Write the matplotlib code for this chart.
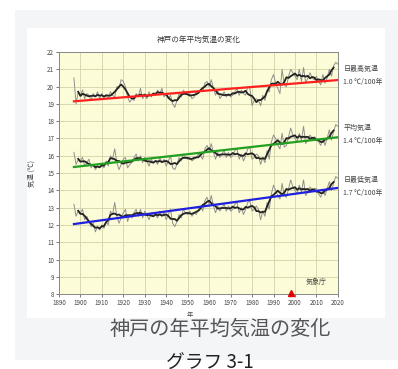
import numpy as np
import pandas as pd
import matplotlib
matplotlib.use("Agg")
import matplotlib.pyplot as plt
from matplotlib.patches import Rectangle

plt.rcParams['font.family'] = ['Noto Sans CJK JP', 'DejaVu Sans']

# 神戸の年平均気温 (1897-2020)
years = np.arange(1897, 2021)

t_max = [20.5, 19.0, 19.7,
         19.5, 19.8, 19.3, 19.6, 19.5, 19.2, 19.6, 19.4, 19.7, 19.3,
         19.6, 19.4, 19.5, 19.3, 19.7, 19.5, 19.4, 20.0, 19.9, 20.4,
         20.3, 20.0, 19.4, 19.1, 19.3, 19.2, 19.6, 19.4, 19.9, 19.3,
         19.5, 19.3, 19.7, 19.4, 19.6, 19.5, 19.8, 19.6, 19.9, 19.4,
         19.6, 19.3, 19.5, 19.0, 18.8, 19.2, 19.6, 19.4, 19.8, 19.6,
         19.5, 19.6, 19.3, 19.4, 19.7, 19.6, 19.8, 19.7, 20.2, 20.3,
         20.0, 20.4, 19.9, 19.5, 19.8, 19.3, 19.5, 19.7, 19.4, 19.6,
         19.4, 19.5, 19.7, 19.9, 19.5, 19.8, 19.6, 19.5, 20.0, 19.9,
         18.9, 19.2, 19.3, 19.2, 18.9, 19.5, 19.2, 19.8, 19.7, 20.4,
         20.7, 20.2, 19.9, 19.6, 21.0, 20.1, 20.0, 20.6, 21.0, 20.8,
         20.6, 20.4, 21.0, 20.3, 21.1, 20.2, 20.5, 20.8, 20.5, 20.4,
         20.6, 20.3, 20.1, 20.7, 20.2, 20.5, 21.0, 20.6, 21.2, 21.4,
         21.3]

t_mean = [16.2, 15.5, 15.8,
          15.7, 15.9, 15.4, 15.6, 15.8, 15.3, 15.5, 15.2, 15.4, 15.3,
          15.5, 15.3, 15.7, 15.4, 16.0, 15.8, 16.4, 15.6, 15.2, 15.5,
          15.8, 15.9, 15.3, 15.5, 15.6, 15.9, 16.1, 15.7, 16.0, 15.6,
          15.9, 15.7, 15.4, 15.8, 15.6, 15.7, 15.5, 15.9, 15.6, 15.8,
          15.4, 15.7, 16.0, 15.3, 15.2, 15.5, 15.9, 15.7, 16.1, 15.9,
          15.8, 15.9, 15.7, 15.8, 15.9, 16.1, 16.0, 15.8, 16.4, 16.6,
          16.3, 16.7, 16.2, 15.8, 16.2, 15.9, 16.1, 16.3, 15.9, 16.2,
          15.9, 16.0, 16.3, 16.4, 15.8, 16.1, 15.7, 16.0, 16.4, 16.5,
          15.8, 15.9, 16.1, 16.0, 15.5, 15.9, 15.6, 16.3, 15.8, 16.8,
          17.2, 17.0, 16.6, 16.4, 17.3, 16.5, 16.6, 17.1, 17.6, 17.2,
          17.0, 16.8, 17.3, 16.9, 17.7, 16.7, 16.9, 17.2, 17.0, 17.1,
          17.0, 16.8, 16.6, 17.0, 16.6, 17.0, 17.5, 16.9, 17.4, 17.8,
          17.7]

t_min = [13.2, 12.5, 12.8,
         12.7, 12.9, 12.3, 12.5, 12.2, 11.9, 12.1, 11.6, 11.9, 11.7,
         12.0, 11.8, 12.2, 12.0, 12.8, 12.6, 13.3, 12.5, 12.1, 12.4,
         12.7, 12.9, 12.2, 12.6, 12.4, 12.7, 12.9, 12.5, 12.9, 12.4,
         12.8, 12.6, 12.3, 12.7, 12.5, 12.6, 12.4, 12.8, 12.5, 12.7,
         12.3, 12.6, 12.9, 12.1, 11.9, 12.2, 12.6, 12.4, 12.9, 12.7,
         12.6, 12.8, 12.5, 12.7, 12.6, 12.9, 13.1, 12.8, 13.4, 13.6,
         13.2, 13.7, 13.1, 12.7, 13.1, 12.8, 13.0, 13.2, 12.8, 13.1,
         12.8, 12.9, 13.2, 13.3, 12.7, 13.0, 12.6, 12.9, 13.3, 13.4,
         12.8, 12.9, 13.1, 12.9, 12.3, 12.8, 12.5, 13.3, 12.9, 13.8,
         14.3, 14.0, 13.7, 13.5, 14.4, 13.7, 13.6, 14.1, 14.6, 14.2,
         14.0, 13.8, 14.3, 13.9, 14.6, 13.7, 13.9, 14.2, 14.0, 14.1,
         14.1, 13.8, 13.6, 14.0, 13.7, 14.1, 14.5, 14.0, 14.4, 14.8,
         14.7]

series_names = ["日最高気温", "平均気温", "日最低気温"]
trend_rates = [1.0, 1.4, 1.7]          # ℃/100年
trend_start = [19.15, 15.35, 12.05]     # 1897年の値
trend_colors = ["#ff2020", "#22a022", "#2020e0"]
label_y = [21.0, 17.6, 14.6]

fig = plt.figure(figsize=(3.98, 3.69), dpi=100)
fig.patch.set_facecolor("white")

# 背景パネル (軸より下に描く)
fig.patches.append(Rectangle((15 / 398, 1 - 360 / 369), 383 / 398, 350 / 369,
                             transform=fig.transFigure, facecolor="#f4f5f7",
                             edgecolor="none", zorder=-2))
fig.patches.append(Rectangle((27 / 398, 1 - 318 / 369), 358 / 398, 290 / 369,
                             transform=fig.transFigure, facecolor="white",
                             edgecolor="none", zorder=-1))

ax = fig.add_axes([0.148, 0.203, 0.701, 0.656])
ax.set_facecolor("#fdfcd8")

for vals, rate, y0, color in zip([t_max, t_mean, t_min], trend_rates,
                                 trend_start, trend_colors):
    s = pd.Series(vals, index=years)
    ax.plot(years, s.values, color="#909090", lw=0.7, zorder=2)
    ax.plot(years, s.rolling(5, center=True).mean().values,
            color="#222222", lw=1.3, zorder=3)
    ax.plot(years, y0 + rate / 100 * (years - years[0]),
            color=color, lw=1.6, zorder=4)

ax.set_xlim(1890, 2020)
ax.set_ylim(8, 22)
ax.set_xticks(np.arange(1890, 2021, 10))
ax.set_yticks(np.arange(8, 23, 1))
ax.grid(True, color="#d4d2a8", lw=0.6)
ax.tick_params(labelsize=4.5, colors="#444444", length=2, width=0.5, pad=1.5)
for sp in ax.spines.values():
    sp.set_color("#888888")
    sp.set_linewidth(0.7)

ax.set_title("神戸の年平均気温の変化", fontsize=5.5, color="#333333", pad=7)
ax.set_ylabel("気温 (℃)", fontsize=5, color="#444444", labelpad=8)
ax.set_xlabel("年", fontsize=4.5, color="#444444")
ax.xaxis.set_label_coords(0.47, -0.068)

# 観測地点移転
ax.plot([1998], [8.05], marker="^", color="#e00000", ms=5, clip_on=False,
        zorder=5)
ax.text(2015, 8.6, "気象庁", fontsize=5, color="#444444", ha="right")

for name, rate, y in zip(series_names, trend_rates, label_y):
    ax.text(1.02, (y - 8) / 14, name, transform=ax.transAxes, fontsize=5,
            color="#444444", va="center")
    ax.text(1.02, (y - 8 - 0.75) / 14, f"{rate:.1f} ℃/100年",
            transform=ax.transAxes, fontsize=5, color="#444444", va="center")

fig.text(220 / 398, 1 - 329 / 369, "神戸の年平均気温の変化", fontsize=14.5,
         color="#555555", ha="center", va="center")
fig.text(210 / 398, 1 - 363 / 369, "グラフ 3-1", fontsize=13.5,
         color="#222222", ha="center", va="center")

fig.savefig("out.png", dpi=100)
